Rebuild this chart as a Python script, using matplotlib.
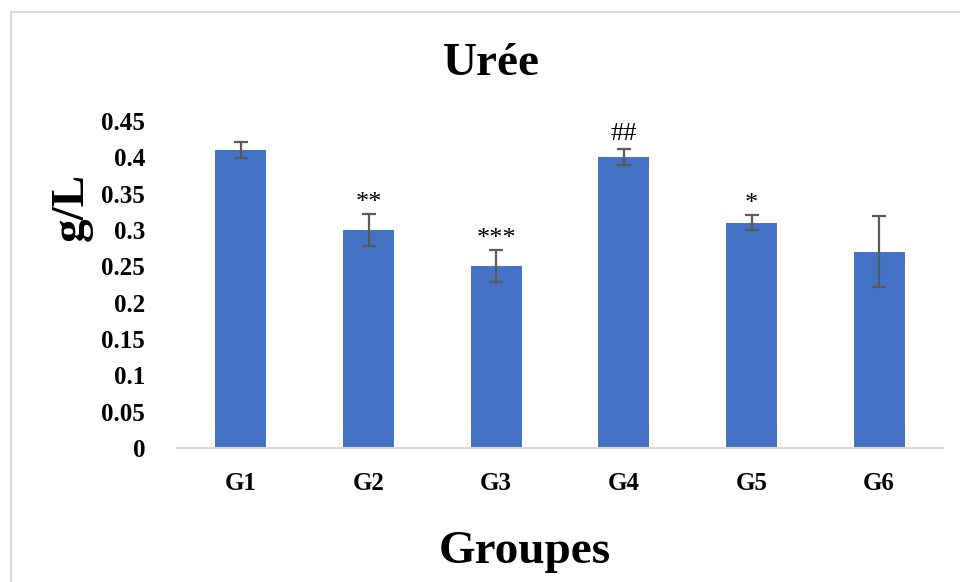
import matplotlib
matplotlib.use("Agg")
import matplotlib.pyplot as plt
from matplotlib.patches import Rectangle

# Urea concentration per group (g/L), with standard errors
groups = ["G1", "G2", "G3", "G4", "G5", "G6"]
means = [0.41, 0.30, 0.25, 0.40, 0.31, 0.27]
errors = [0.011, 0.022, 0.022, 0.011, 0.010, 0.049]
marks = ["", "**", "***", "##", "*", ""]
yticks = [0, 0.05, 0.1, 0.15, 0.2, 0.25, 0.3, 0.35, 0.4, 0.45]
ytick_labels = ["0", "0.05", "0.1", "0.15", "0.2", "0.25", "0.3", "0.35", "0.4", "0.45"]

serif = ["Liberation Serif", "DejaVu Serif"]
plt.rcParams["font.family"] = serif

fig = plt.figure(figsize=(9.6, 5.82), dpi=100)
ax = fig.add_axes([0.1844, 0.2302, 0.7979, 0.5619])

x = range(len(groups))
ax.bar(x, means, width=0.4, color="#4472C4", zorder=2)
ax.errorbar(x, means, yerr=errors, fmt="none", ecolor="#595959",
            elinewidth=1.6, capsize=4.8, capthick=1.6, zorder=3)

# significance marks above the error bars
for i, (m, e, t) in enumerate(zip(means, errors, marks)):
    if t:
        ax.text(i, m + e + (0.006 if "#" in t else 0.0), t, ha="center",
                va="bottom", fontsize=19, family=serif)

ax.set_xlim(-0.5, len(groups) - 0.5)
ax.set_ylim(0, 0.45)
ax.set_yticks(yticks)
ax.set_yticklabels(ytick_labels)
ax.set_xticks(list(x))
ax.set_xticklabels(groups)
ax.tick_params(axis="both", length=0, labelsize=18)
ax.tick_params(axis="y", pad=23)
ax.tick_params(axis="x", pad=17)
for lab in ax.get_xticklabels() + ax.get_yticklabels():
    lab.set_fontweight("bold")

for side in ["top", "right", "left"]:
    ax.spines[side].set_visible(False)
ax.spines["bottom"].set_color("#d9d9d9")
ax.spines["bottom"].set_linewidth(1.5)

fig.text(491 / 960, 1 - 64 / 582, "Urée", ha="center", va="center",
         fontsize=34, fontweight="bold")
fig.text(525 / 960, 1 - 552 / 582, "Groupes", ha="center", va="center",
         fontsize=34, fontweight="bold")
fig.text(72 / 960, 1 - 207 / 582, "g/L", ha="center", va="center",
         rotation=90, fontsize=34, fontweight="bold")

# outer chart frame
fig.patches.append(Rectangle((11 / 960, -0.05), 1.2, 1 - 12 / 582 + 0.05,
                             transform=fig.transFigure, fill=False,
                             edgecolor="#d9d9d9", linewidth=1.5))

fig.savefig("out.png", dpi=100)
